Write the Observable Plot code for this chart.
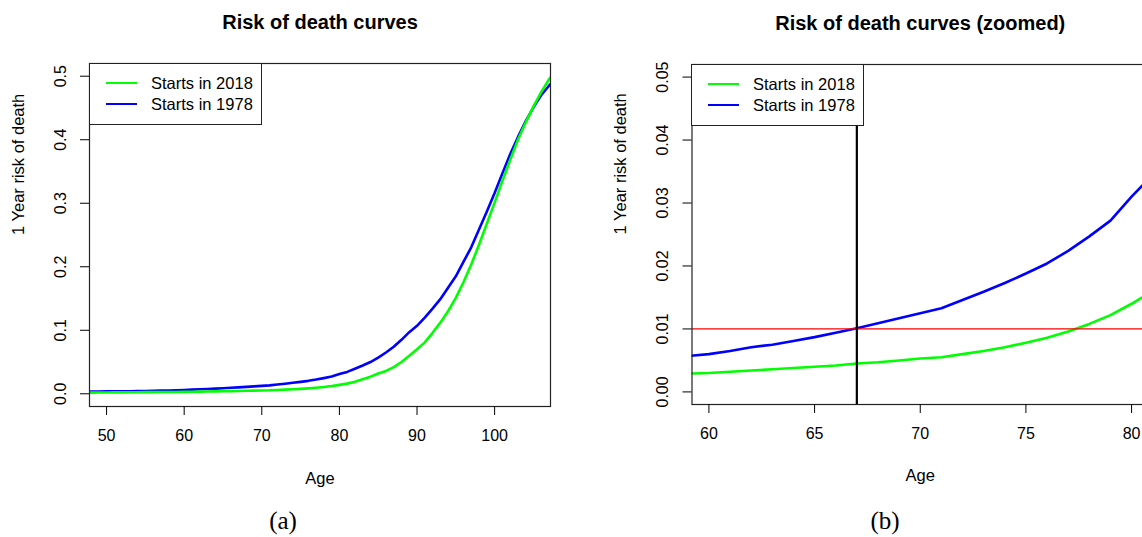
<!DOCTYPE html>
<html>
<head>
<meta charset="utf-8">
<script src="https://cdn.jsdelivr.net/npm/d3@7"></script>
<script src="https://cdn.jsdelivr.net/npm/@observablehq/plot@0.6"></script>
<style>
  html, body { margin: 0; padding: 0; background: #fff; }
  body { width: 1142px; height: 537px; position: relative; overflow: hidden; font-family: "Liberation Sans", Arial, sans-serif; }
  .panel { position: absolute; top: 0; }
  .panel svg { max-width: none !important; }
  .legend { position: absolute; background: #fff; border: 1px solid #222; box-sizing: border-box; }
  .legend .sw { position: absolute; height: 0; border-top: 2.5px solid; }
  .legend .lbl { position: absolute; font-size: 16.5px; color: #000; white-space: nowrap; line-height: 20px; }
  .cap { position: absolute; font-family: "Liberation Serif", "DejaVu Serif", serif; font-size: 25px; transform: translate(-50%, -50%); color: #000; }
</style>
</head>
<body>
<div id="left" class="panel" style="left:0;width:571px"></div>
<div id="right" class="panel" style="left:571px;width:600px"></div>
<script>
// ---- data ----
const ages = [47,48,49,50,51,52,53,54,55,56,57,58,59,60,61,62,63,64,65,66,67,68,69,70,71,72,73,74,75,76,77,78,79,80,81,82,83,84,85,86,87,88,89,90,91,92,93,94,95,96,97,98,99,100,101,102,103,104,105,106,107,108];
const risk1978 = [0.0035,0.0036,0.0037,0.0038,0.0039,0.0040,0.0041,0.0043,0.0045,0.0047,0.0050,0.0053,0.0057,0.0060,0.0065,0.0071,0.0075,0.0081,0.0087,0.0094,0.0101,0.0109,0.0117,0.0125,0.0133,0.0146,0.0159,0.0173,0.0188,0.0204,0.0224,0.0247,0.0272,0.0310,0.0345,0.0395,0.0445,0.0500,0.0570,0.0650,0.0740,0.0850,0.0970,0.1070,0.1200,0.1340,0.1490,0.1670,0.1850,0.2080,0.2310,0.2590,0.2870,0.3160,0.3470,0.3770,0.4040,0.4290,0.4510,0.4700,0.4850,0.4980];
const risk2018 = [0.0018,0.0019,0.0020,0.0021,0.0022,0.0023,0.0024,0.0025,0.0026,0.0027,0.0028,0.0028,0.0029,0.0030,0.0032,0.0034,0.0036,0.0038,0.0040,0.0042,0.0045,0.0047,0.0050,0.0053,0.0055,0.0060,0.0065,0.0071,0.0078,0.0086,0.0096,0.0108,0.0122,0.0140,0.0160,0.0190,0.0230,0.0270,0.0320,0.0360,0.0420,0.0500,0.0600,0.0700,0.0810,0.0960,0.1120,0.1300,0.1510,0.1760,0.2040,0.2350,0.2680,0.3010,0.3350,0.3680,0.4000,0.4270,0.4520,0.4750,0.4950,0.5100];
const seriesNames = ["Starts in 2018", "Starts in 1978"];
const seriesColors = ["#00ff00", "#0000ff"];
const xTicksA = [50, 60, 70, 80, 90, 100];
const yTicksA = [0, 0.1, 0.2, 0.3, 0.4, 0.5];
const xTicksB = [60, 65, 70, 75, 80];
const yTicksB = [0, 0.01, 0.02, 0.03, 0.04, 0.05];
const thresholdRisk = 0.01;
const thresholdAge = 67;
const titles = ["Risk of death curves", "Risk of death curves (zoomed)"];
const yTitle = "1 Year risk of death";
const xTitle = "Age";
const captions = ["(a)", "(b)"];

const rows1978 = ages.map((a, i) => ({age: a, risk: risk1978[i]}));
const rows2018 = ages.map((a, i) => ({age: a, risk: risk2018[i]}));

function panel(opts) {
  const marks = [
    Plot.line(rows1978, {x: "age", y: "risk", stroke: seriesColors[1], strokeWidth: 2.6, clip: true}),
    Plot.line(rows2018, {x: "age", y: "risk", stroke: seriesColors[0], strokeWidth: 2.6, clip: true}),
    ...(opts.extra || []),
    Plot.frame({stroke: "#222", strokeWidth: 1.2}),
    Plot.axisX({ticks: opts.xTicks, tickSize: 9, tickPadding: 14, label: null, fontSize: 16, tickFormat: d => String(d)}),
    Plot.axisY({ticks: opts.yTicks, tickSize: 9, tickFormat: () => "", label: null}),
    Plot.text(opts.yTicks, {y: d => d, text: d => d.toFixed(opts.yDigits), frameAnchor: "left", dx: -29, rotate: -90, textAnchor: "middle", lineAnchor: "middle", fontSize: 16}),
    Plot.text([opts.title], {frameAnchor: "top", dy: -41, fontWeight: "bold", fontSize: 20, lineAnchor: "middle"}),
    Plot.text([xTitle], {frameAnchor: "bottom", dy: opts.xTitleDy, fontSize: 16.5, lineAnchor: "middle"}),
    Plot.text([yTitle], {frameAnchor: "left", dx: -71, rotate: -90, fontSize: 16.5, lineAnchor: "middle"})
  ];
  return Plot.plot({
    width: opts.width, height: 537,
    marginLeft: opts.ml, marginRight: opts.mr, marginTop: opts.mt, marginBottom: opts.mb,
    x: {domain: opts.xDomain},
    y: {domain: opts.yDomain},
    style: {fontFamily: "'Liberation Sans', Arial, sans-serif", fontSize: "16px", color: "#000", background: "transparent", overflow: "visible", maxWidth: "none"},
    marks
  });
}

document.getElementById("left").append(panel({
  width: 571, ml: 89, mr: 21, mt: 63, mb: 131,
  xDomain: [47.8, 107.2], yDomain: [-0.02, 0.52],
  xTicks: xTicksA, yTicks: yTicksA, yDigits: 1,
  title: titles[0], xTitleDy: 72
}));

document.getElementById("right").append(panel({
  width: 600, ml: 120.5, mr: 23, mt: 64, mb: 133,
  xDomain: [59.2, 80.8], yDomain: [-0.002, 0.052],
  xTicks: xTicksB, yTicks: yTicksB, yDigits: 2,
  title: titles[1], xTitleDy: 71,
  extra: [
    Plot.ruleY([thresholdRisk], {stroke: "#ff0000", strokeWidth: 1.2, clip: true}),
    Plot.ruleX([thresholdAge], {stroke: "#000", strokeWidth: 2.2, clip: true})
  ]
}));

// legends
function legend(left, top) {
  const box = document.createElement("div");
  box.className = "legend";
  Object.assign(box.style, {left: left + "px", top: top + "px", width: "173px", height: "62px"});
  seriesNames.forEach((name, i) => {
    const y = 19.5 + i * 21;
    const sw = document.createElement("div");
    sw.className = "sw";
    Object.assign(sw.style, {left: "15.5px", width: "31px", top: (y - 1.25) + "px", borderTopColor: seriesColors[i]});
    const lbl = document.createElement("div");
    lbl.className = "lbl";
    lbl.textContent = name;
    Object.assign(lbl.style, {left: "61px", top: (y - 10) + "px"});
    box.append(sw, lbl);
  });
  document.body.append(box);
}
legend(89, 62.5);
legend(691, 63.5);

// captions
[[283, 521], [885, 521]].forEach(([x, y], i) => {
  const c = document.createElement("div");
  c.className = "cap";
  c.textContent = captions[i];
  Object.assign(c.style, {left: x + "px", top: y + "px"});
  document.body.append(c);
});
</script>
</body>
</html>
